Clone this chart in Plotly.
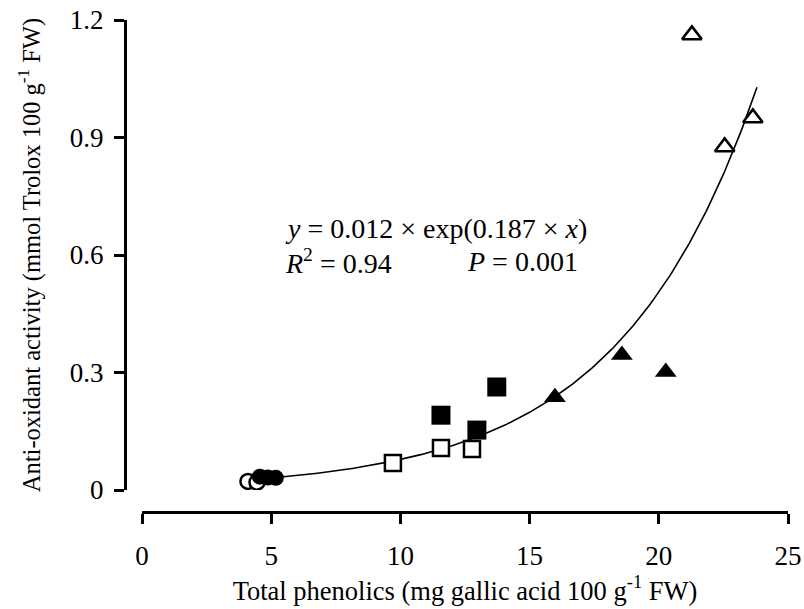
import numpy as np
import plotly.graph_objects as go

# Data
open_circle_x = [4.10, 4.45]
open_circle_y = [0.022, 0.020]
filled_circle_x = [4.56, 4.87, 5.18]
filled_circle_y = [0.034, 0.032, 0.031]
open_square_x = [9.71, 11.57, 12.77]
open_square_y = [0.069, 0.107, 0.105]
filled_square_x = [11.57, 12.96, 13.73]
filled_square_y = [0.191, 0.153, 0.263]
filled_tri_x = [15.98, 18.57, 20.27]
filled_tri_y = [0.237, 0.345, 0.301]
open_tri_x = [21.28, 22.55, 23.64]
open_tri_y = [1.162, 0.876, 0.950]

fit_a, fit_b = 0.012, 0.187
fit_x = np.linspace(5.1, 23.8, 200)
fit_y = fit_a * np.exp(fit_b * fit_x)

x_ticks = [0, 5, 10, 15, 20, 25]
y_ticks = [0, 0.3, 0.6, 0.9, 1.2]
y_tick_text = ["0", "0.3", "0.6", "0.9", "1.2"]

W, H = 804, 609
FONT = "Liberation Serif, Times New Roman, serif"

fig = go.Figure()
fig.add_trace(go.Scatter(x=fit_x, y=fit_y, mode="lines",
                         line=dict(color="black", width=1.6), hoverinfo="skip"))

def add(xs, ys, symbol, size, filled):
    fig.add_trace(go.Scatter(
        x=xs, y=ys, mode="markers",
        marker=dict(symbol=symbol, size=size,
                    color="black" if filled else "white",
                    line=dict(color="black", width=0 if filled else 2.5))))

add(open_circle_x, open_circle_y, "circle", 15, False)
add(filled_circle_x, filled_circle_y, "circle", 16, True)
add(open_square_x, open_square_y, "square", 16, False)
add(filled_square_x, filled_square_y, "square", 19, True)
add(filled_tri_x, filled_tri_y, "triangle-up", 19, True)
add(open_tri_x, open_tri_y, "triangle-up", 17, False)

EQ = dict(family=FONT, size=28, color="black")
fig.add_annotation(x=283/W, y=1 - 228/H, xref="paper", yref="paper", xanchor="left",
                   yanchor="middle", showarrow=False,
                   text="<i>y</i> = 0.012 × exp(0.187 × <i>x</i>)", font=EQ)
fig.add_annotation(x=283/W, y=1 - 262/H, xref="paper", yref="paper", xanchor="left",
                   yanchor="middle", showarrow=False,
                   text="<i>R</i><sup>2</sup> = 0.94", font=EQ)
fig.add_annotation(x=465/W, y=1 - 262/H, xref="paper", yref="paper", xanchor="left",
                   yanchor="middle", showarrow=False,
                   text="<i>P</i> = 0.001", font=EQ)

fig.update_layout(
    width=W, height=H, margin=dict(l=0, r=0, t=0, b=0, autoexpand=False),
    paper_bgcolor="white", plot_bgcolor="white", showlegend=False,
    font=dict(family=FONT, color="black"),
    xaxis=dict(domain=[142/W, 788/W], range=[0, 25], anchor="free",
               position=1 - 512/H, automargin=False,
               showline=True, linecolor="black", linewidth=3,
               ticks="outside", ticklen=10, tickwidth=2.5, tickcolor="black",
               ticklabelstandoff=9,
               tickvals=x_ticks, showgrid=False, zeroline=False,
               tickfont=dict(family=FONT, size=27, color="black"),
               title=dict(text="Total phenolics (mg gallic acid 100 g<sup>-1</sup> FW)",
                          font=dict(family=FONT, size=26.5, color="black"), standoff=6)),
    yaxis=dict(domain=[1 - 490/H, 1 - 20/H], range=[0, 1.2], anchor="free",
               position=125/W, automargin=False,
               showline=True, linecolor="black", linewidth=3,
               ticks="outside", ticklen=10, tickwidth=2.5, tickcolor="black",
               ticklabelstandoff=5,
               tickvals=y_ticks, ticktext=y_tick_text, showgrid=False, zeroline=False,
               tickfont=dict(family=FONT, size=27, color="black"),
               title=dict(text="Anti-oxidant activity (mmol Trolox 100 g<sup>-1</sup> FW)",
                          font=dict(family=FONT, size=24.5, color="black"), standoff=21)),
)

fig.write_html("out.html")
